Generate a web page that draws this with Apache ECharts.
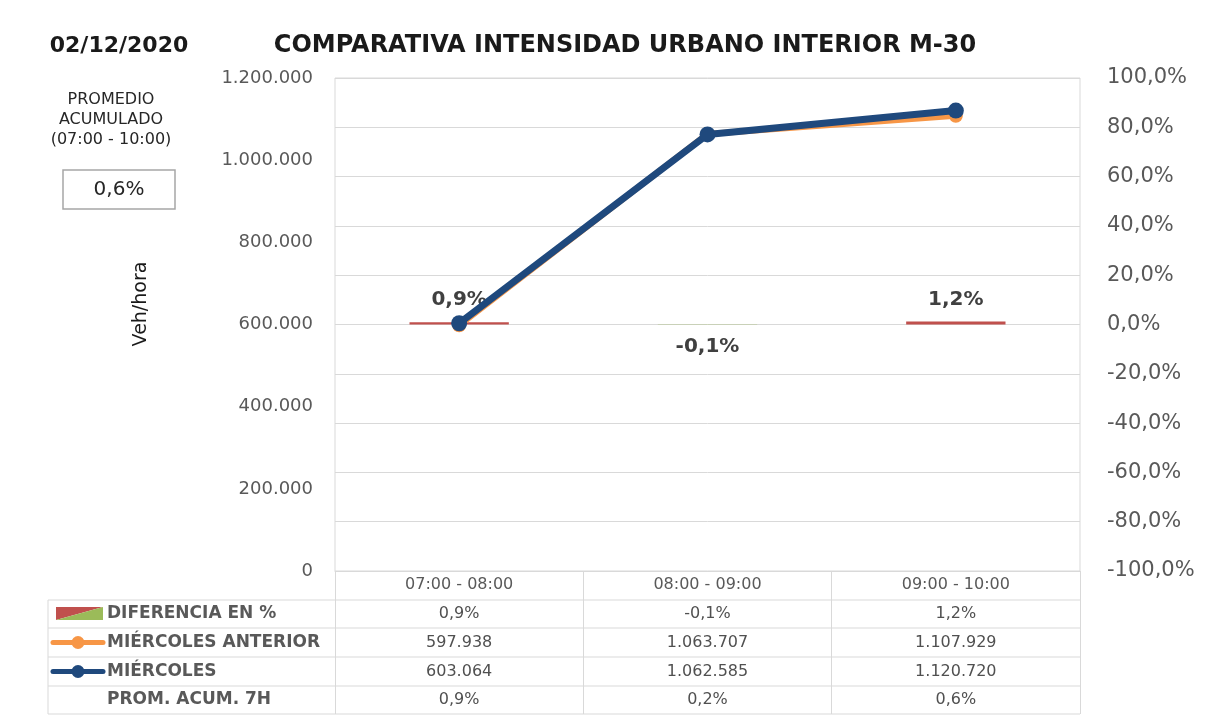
<!DOCTYPE html>
<html>
<head>
<meta charset="utf-8">
<script src="https://cdn.jsdelivr.net/npm/echarts@6/dist/echarts.min.js"></script>
<style>
html,body{margin:0;padding:0;background:#fff;}
#c{width:1212px;height:716px;}
</style>
</head>
<body>
<div id="c"></div>
<script>
// ---- data ----
const categories = ['07:00 - 08:00', '08:00 - 09:00', '09:00 - 10:00'];
const diffPct = [0.9, -0.1, 1.2];
const miercolesAnterior = [597938, 1063707, 1107929];
const miercoles = [603064, 1062585, 1120720];
const promAcum7h = [0.9, 0.2, 0.6];
const promedioAcumulado = 0.6;
const leftAxisRange = [0, 1200000, 200000];
const rightAxisRange = [-100, 100, 20];
const rowLabels = ['DIFERENCIA EN %', 'MIÉRCOLES ANTERIOR', 'MIÉRCOLES', 'PROM. ACUM. 7H'];

// ---- helpers ----
const FONT = '"DejaVu Sans", sans-serif';
function fmtInt(n) { return String(Math.round(n)).replace(/\B(?=(\d{3})+(?!\d))/g, '.'); }
function fmtPct(v, d) { return v.toFixed(d).replace('.', ',') + '%'; }

const chart = echarts.init(document.getElementById('c'));
const GRID = { left: 335, right: 132, top: 78, bottom: 145 };
const GRAY = '#595959';
const LINE = '#d9d9d9';

chart.setOption({
  animation: false,
  backgroundColor: '#ffffff',
  textStyle: { fontFamily: FONT },
  grid: { left: GRID.left, right: GRID.right, top: GRID.top, bottom: GRID.bottom, show: true, borderColor: LINE, borderWidth: 1, containLabel: false },
  xAxis: {
    type: 'category',
    data: categories,
    boundaryGap: true,
    axisLine: { show: true, lineStyle: { color: LINE } },
    axisTick: { show: true, length: 143, lineStyle: { color: LINE } },
    axisLabel: { color: GRAY, fontSize: 16, margin: 6, fontFamily: FONT }
  },
  yAxis: [
    {
      type: 'value', min: leftAxisRange[0], max: leftAxisRange[1], interval: leftAxisRange[2],
      position: 'left',
      axisLine: { show: false }, axisTick: { show: false },
      splitLine: { show: false },
      axisLabel: { color: GRAY, fontSize: 18, margin: 22, fontFamily: FONT, formatter: v => fmtInt(v) }
    },
    {
      type: 'value', min: rightAxisRange[0], max: rightAxisRange[1], interval: rightAxisRange[2],
      position: 'right',
      axisLine: { show: false }, axisTick: { show: false },
      splitLine: { show: true, lineStyle: { color: LINE, width: 1 } },
      axisLabel: { color: GRAY, fontSize: 21, margin: 27, fontFamily: FONT, formatter: v => fmtPct(v, 1) }
    }
  ],
  series: [
    {
      name: 'DIFERENCIA EN %', type: 'bar', yAxisIndex: 1, barWidth: '40%',
      data: diffPct.map(v => ({
        value: v,
        itemStyle: { color: v >= 0 ? '#C0504D' : '#9BBB59' },
        label: { position: v >= 0 ? 'top' : 'bottom' }
      })),
      label: { show: true, distance: 12, color: '#404040', fontWeight: 'bold', fontSize: 20, fontFamily: FONT, formatter: p => fmtPct(p.value, 1) },
      z: 2
    },
    {
      name: 'MIÉRCOLES ANTERIOR', type: 'line', yAxisIndex: 0, data: miercolesAnterior,
      symbol: 'circle', symbolSize: 14,
      lineStyle: { color: '#F79646', width: 6, cap: 'round' },
      itemStyle: { color: '#F79646' }, z: 3
    },
    {
      name: 'MIÉRCOLES', type: 'line', yAxisIndex: 0, data: miercoles,
      symbol: 'circle', symbolSize: 16,
      lineStyle: { color: '#1F497D', width: 7, cap: 'round' },
      itemStyle: { color: '#1F497D' }, z: 4
    }
  ]
});

// ---- table and annotations ----
const colX = categories.map((c, i) => chart.convertToPixel({ xAxisIndex: 0 }, i));
const tableLeft = 48, tableRight = 1212 - GRID.right;
const rowLines = [600, 628, 657, 686, 714];
const rowCenters = rowLines.slice(0, 4).map((y, i) => (y + rowLines[i + 1]) / 2);
const g = [];

function txt(x, y, s, font, fill, align) {
  g.push({ type: 'text', x: x, y: y, style: { text: s, font: font, fill: fill || GRAY, align: align || 'center', verticalAlign: 'middle' }, z: 10 });
}

// table horizontal lines
rowLines.forEach(y => g.push({ type: 'line', shape: { x1: tableLeft, y1: y, x2: tableRight, y2: y }, style: { stroke: LINE, lineWidth: 1 }, z: 1 }));
g.push({ type: 'line', shape: { x1: tableLeft, y1: rowLines[0], x2: tableLeft, y2: rowLines[4] }, style: { stroke: LINE, lineWidth: 1 }, z: 1 });

// row labels
rowLabels.forEach((s, i) => txt(107, rowCenters[i], s, 'bold 17px ' + FONT, GRAY, 'left'));

// legend keys
const ky = rowCenters[0];
g.push({ type: 'polygon', shape: { points: [[56, ky - 7], [103, ky - 7], [56, ky + 6]] }, style: { fill: '#C0504D' }, z: 10 });
g.push({ type: 'polygon', shape: { points: [[103, ky - 7], [103, ky + 6], [56, ky + 6]] }, style: { fill: '#9BBB59' }, z: 10 });
[['#F79646', rowCenters[1]], ['#1F497D', rowCenters[2]]].forEach(([c, y]) => {
  g.push({ type: 'line', shape: { x1: 53, y1: y, x2: 103, y2: y }, style: { stroke: c, lineWidth: 5, lineCap: 'round' }, z: 10 });
  g.push({ type: 'circle', shape: { cx: 78, cy: y, r: 6.5 }, style: { fill: c }, z: 11 });
});

// table values
const rows = [
  diffPct.map(v => fmtPct(v, 1)),
  miercolesAnterior.map(fmtInt),
  miercoles.map(fmtInt),
  promAcum7h.map(v => fmtPct(v, 1))
];
rows.forEach((r, ri) => r.forEach((s, ci) => txt(colX[ci], rowCenters[ri], s, '16px ' + FONT, '#505050')));

// title & date
txt(119, 46, '02/12/2020', 'bold 22px ' + FONT, '#1a1a1a');
txt(625, 46, 'COMPARATIVA INTENSIDAD URBANO INTERIOR M-30', 'bold 24px ' + FONT, '#1a1a1a');

// promedio acumulado panel
txt(111, 100, 'PROMEDIO', '16px ' + FONT, '#262626');
txt(111, 120, 'ACUMULADO', '16px ' + FONT, '#262626');
txt(111, 140, '(07:00 - 10:00)', '16px ' + FONT, '#262626');
g.push({ type: 'rect', shape: { x: 63, y: 170, width: 112, height: 39 }, style: { fill: '#fff', stroke: '#a6a6a6', lineWidth: 1.5 }, z: 9 });
txt(119, 190, fmtPct(promedioAcumulado, 1), '20px ' + FONT, '#262626');

// y axis title
g.push({ type: 'text', x: 141, y: 304, rotation: Math.PI / 2, style: { text: 'Veh/hora', font: '19px ' + FONT, fill: '#1a1a1a', align: 'center', verticalAlign: 'middle' }, z: 10 });

chart.setOption({ graphic: { elements: g } });
</script>
</body>
</html>
